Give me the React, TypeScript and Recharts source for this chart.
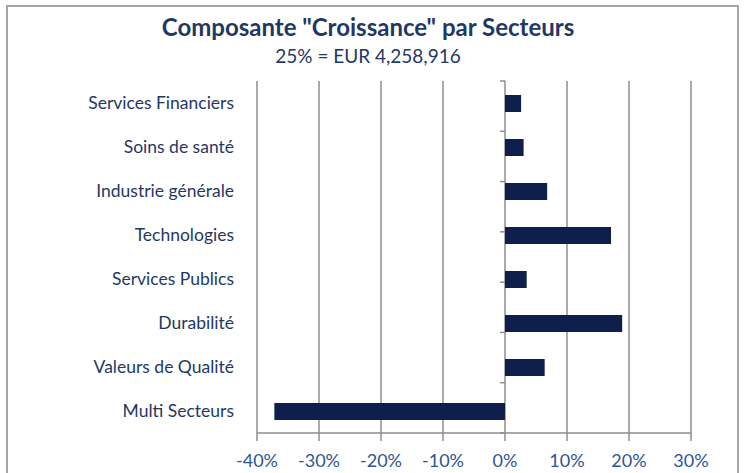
import React from 'react';
import { BarChart, Bar, XAxis, YAxis, CartesianGrid, ReferenceLine, ReferenceArea } from 'recharts';

const sectors = [
  'Services Financiers',
  'Soins de santé',
  'Industrie générale',
  'Technologies',
  'Services Publics',
  'Durabilité',
  'Valeurs de Qualité',
  'Multi Secteurs',
];
const growth = [0.026, 0.030, 0.068, 0.171, 0.035, 0.189, 0.064, -0.372];
const xTicks = [-0.4, -0.3, -0.2, -0.1, 0, 0.1, 0.2, 0.3];
const bandEdges = [0, 1, 2, 3, 4, 5, 6, 7, 8];

const data = sectors.map((name, i) => ({ name, value: growth[i] }));

const navy = '#1F3864';
const barColor = '#0F1F4B';
const gridColor = '#8E8E8E';
const font = 'Lato, "Open Sans", sans-serif';

const pct = (v: number) => `${Math.round(v * 100)}%`;

export default function App() {
  return (
    <div style={{ position: 'absolute', left: 0, top: 0, width: 751, height: 473, overflow: 'hidden', background: '#fff', fontFamily: font }}>
      {/* outer chart frame */}
      <div style={{ position: 'absolute', left: 6, top: 5, width: 729, height: 480, border: '2px solid #A6A6A6' }} />
      <div style={{ position: 'absolute', left: 0, width: 736, top: 11, textAlign: 'center', color: navy, fontWeight: 700, fontSize: 24, lineHeight: '32px' }}>
        Composante "Croissance" par Secteurs
      </div>
      <div style={{ position: 'absolute', left: 0, width: 736, top: 44, textAlign: 'center', color: navy, fontSize: 19, lineHeight: '24px' }}>
        25% = EUR 4,258,916
      </div>
      <div style={{ position: 'absolute', left: 0, top: 0 }}>
        <BarChart
          width={751}
          height={473}
          data={data}
          layout="vertical"
          margin={{ top: 81, right: 60, bottom: 0, left: 0 }}
          barSize={17}
        >
          <CartesianGrid horizontal={false} stroke={gridColor} strokeWidth={1.5} />
          <XAxis
            type="number"
            domain={[-0.4, 0.3]}
            ticks={xTicks}
            tickFormatter={pct}
            height={40}
            tickSize={8}
            tickMargin={13}
            axisLine={{ stroke: gridColor, strokeWidth: 1.5 }}
            tickLine={{ stroke: gridColor, strokeWidth: 1.5 }}
            tick={{ fill: '#2E5596', fontSize: 18, fontFamily: font }}
            allowDataOverflow
          />
          <YAxis
            yAxisId="cat"
            type="category"
            dataKey="name"
            width={257}
            axisLine={false}
            tickLine={false}
            tickSize={0}
            tickMargin={23}
            tick={{ fill: navy, fontSize: 17.5, fontFamily: font }}
          />
          <YAxis yAxisId="num" type="number" domain={[0, 8]} hide />
          <Bar yAxisId="cat" dataKey="value" fill={barColor} isAnimationActive={false} />
          {bandEdges.map((e) => (
            <ReferenceLine
              key={e}
              yAxisId="num"
              segment={[{ x: -0.008, y: e }, { x: 0, y: e }]}
              stroke={gridColor}
              strokeWidth={1.5}
            />
          ))}
          <ReferenceArea yAxisId="num" x1={-0.4} x2={0.3} y1={0} y2={8} fill="none" stroke="#333" strokeWidth={1.5} />
        </BarChart>
      </div>
    </div>
  );
}
